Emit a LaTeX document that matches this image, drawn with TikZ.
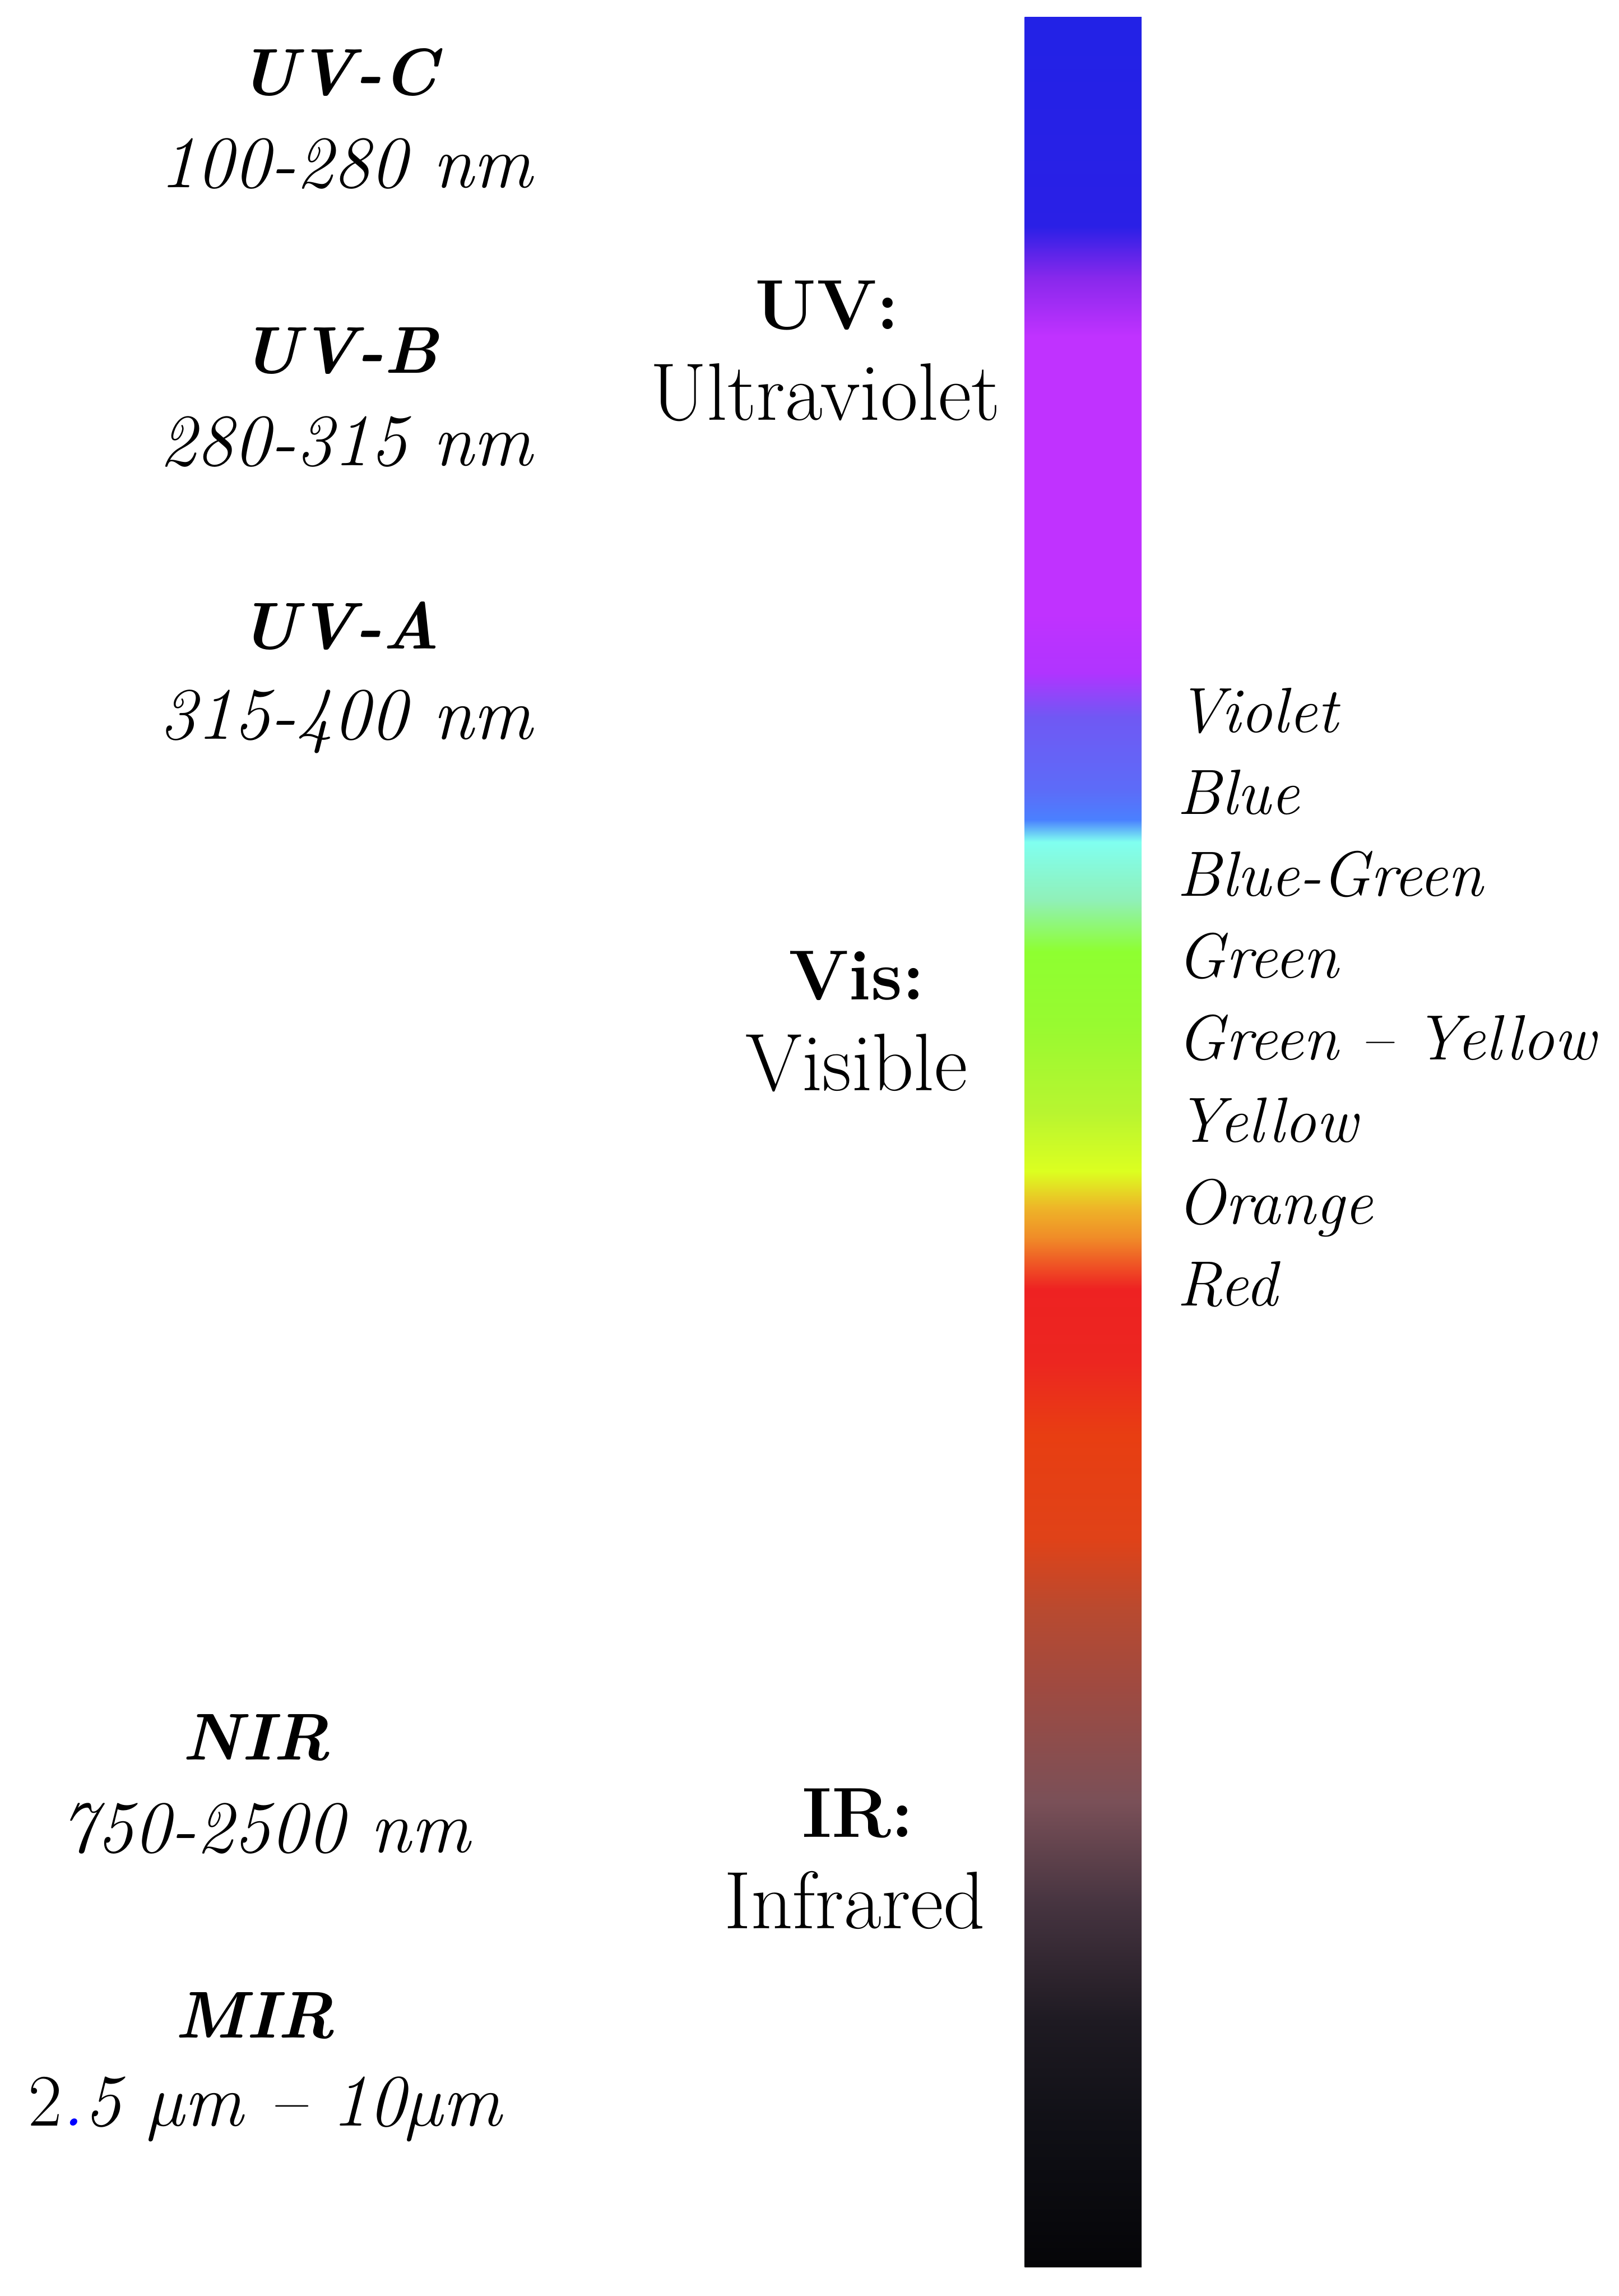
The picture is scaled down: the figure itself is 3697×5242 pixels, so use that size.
\documentclass[tikz,border=0pt]{standalone}
\usepackage{xcolor}
\definecolor{spBlack}{HTML}{050508}
\definecolor{spNight}{HTML}{101016}
\definecolor{spDusk}{HTML}{1E1A22}
\definecolor{spPlum}{HTML}{463440}
\definecolor{spMauve}{HTML}{7A5058}
\definecolor{spBrick}{HTML}{A04A40}
\definecolor{spRust}{HTML}{B84A30}
\definecolor{spFlame}{HTML}{E04218}
\definecolor{spScarlet}{HTML}{E83E12}
\definecolor{spRedA}{HTML}{EC2620}
\definecolor{spRed}{HTML}{EE2222}
\definecolor{spOrange}{HTML}{F08C28}
\definecolor{spAmber}{HTML}{EEB428}
\definecolor{spYellow}{HTML}{DCFF20}
\definecolor{spLime}{HTML}{B8F530}
\definecolor{spGreenA}{HTML}{98FA30}
\definecolor{spGreen}{HTML}{8EFF30}
\definecolor{spMint}{HTML}{90F0B8}
\definecolor{spCyan}{HTML}{80FFF0}
\definecolor{spSky}{HTML}{4A80FF}
\definecolor{spPeri}{HTML}{5C6CF8}
\definecolor{spIndigo}{HTML}{7058F4}
\definecolor{spOrchid}{HTML}{B034FF}
\definecolor{spViolet}{HTML}{C032FF}
\definecolor{spPurple}{HTML}{8828EC}
\definecolor{spDeep}{HTML}{2A20E6}
\definecolor{spBlue}{HTML}{2222E6}
\usetikzlibrary{shadings}

\pgfdeclareverticalshading{spectrum}{100bp}{%
  color(0bp)=(spBlack); color(25bp)=(spBlack);
  color(28.19bp)=(spNight); color(30.47bp)=(spDusk);
  color(33.07bp)=(spPlum); color(35.35bp)=(spMauve);
  color(37.96bp)=(spBrick); color(39.58bp)=(spRust);
  color(41.21bp)=(spFlame); color(43.49bp)=(spScarlet);
  color(45.12bp)=(spRedA); color(46.74bp)=(spRed);
  color(47.88bp)=(spOrange); color(48.53bp)=(spAmber);
  color(49.35bp)=(spYellow); color(50.65bp)=(spLime);
  color(52.60bp)=(spGreenA); color(54.23bp)=(spGreen);
  color(55.37bp)=(spMint); color(56.67bp)=(spCyan);
  color(57.16bp)=(spSky); color(57.81bp)=(spPeri);
  color(59.44bp)=(spIndigo); color(60.42bp)=(spOrchid);
  color(61.72bp)=(spViolet); color(67.90bp)=(spViolet);
  color(69.20bp)=(spPurple); color(70.35bp)=(spDeep);
  color(75bp)=(spBlue); color(100bp)=(spBlue)}

\begin{document}
\begin{tikzpicture}[
        x=0.01cm, y=-0.01cm,
        specbar/.style={
            rectangle,
            draw=none,
            inner sep=0pt,
            minimum width=2.67cm,
            minimum height=51.35cm,
            shading=spectrum, shade
        },
        subband/.style={
            anchor=base,
            font=\fontsize{43}{52}\selectfont\bfseries\itshape
        },
        wavelength/.style={
            anchor=base,
            font=\fontsize{48}{58}\selectfont\itshape
        },
        region/.style={
            anchor=base,
            font=\fontsize{46}{55}\selectfont\bfseries
        },
        regionname/.style={
            anchor=base,
            font=\fontsize{53}{64}\selectfont
        },
        colourname/.style={
            anchor=base west,
            font=\fontsize{41.5}{50}\selectfont\itshape
        }
    ]

    % Canvas
    \fill[white] (0,0) rectangle (3697,5242);
    \useasboundingbox (0,0) rectangle (3697,5242);

    % Spectrum bar
    \node[specbar] (spectrum) at (2473.5,2607.5) {};

    % UV sub-bands
    \node[subband] (uvc) at (772,217) {UV-C};
    \node[wavelength] (uvcRange) at (790,428) {100-280 nm};
    \node[subband] (uvb) at (776,852) {UV-B};
    \node[wavelength] (uvbRange) at (790,1063) {280-315 nm};
    \node[subband] (uva) at (776,1481) {UV-A};
    \node[wavelength] (uvaRange) at (790,1688) {315-400 nm};

    % IR sub-bands
    \node[subband] (nir) at (585,4018) {NIR};
    \node[wavelength] (nirRange) at (605,4229) {750-2500 nm};
    \node[subband] (mir) at (582,4653) {MIR};
    \node[wavelength] (mirRange) at (605,4854) {\textup{2}\textcolor{blue}{.}5 µm -- 10µm};

    % Regions
    \node[region] (uv) at (1889,752) {UV:};
    \node[regionname] (uvName) at (1885,959) {Ultraviolet};
    \node[region] (vis) at (1956,2283) {Vis:};
    \node[regionname] (visName) at (1956,2490) {Visible};
    \node[region] (ir) at (1959,4195) {IR:};
    \node[regionname] (irName) at (1952,4403) {Infrared};

    % Visible colours
    \foreach \name/\label [count=\i from 0] in {violet/Violet, blue/Blue, bluegreen/Blue-Green, green/Green, greenyellow/Green -- Yellow, yellow/Yellow, orange/Orange, red/Red}
        \node[colourname] (\name) at (2676,1672+187*\i) {\label};

\end{tikzpicture}
\end{document}
